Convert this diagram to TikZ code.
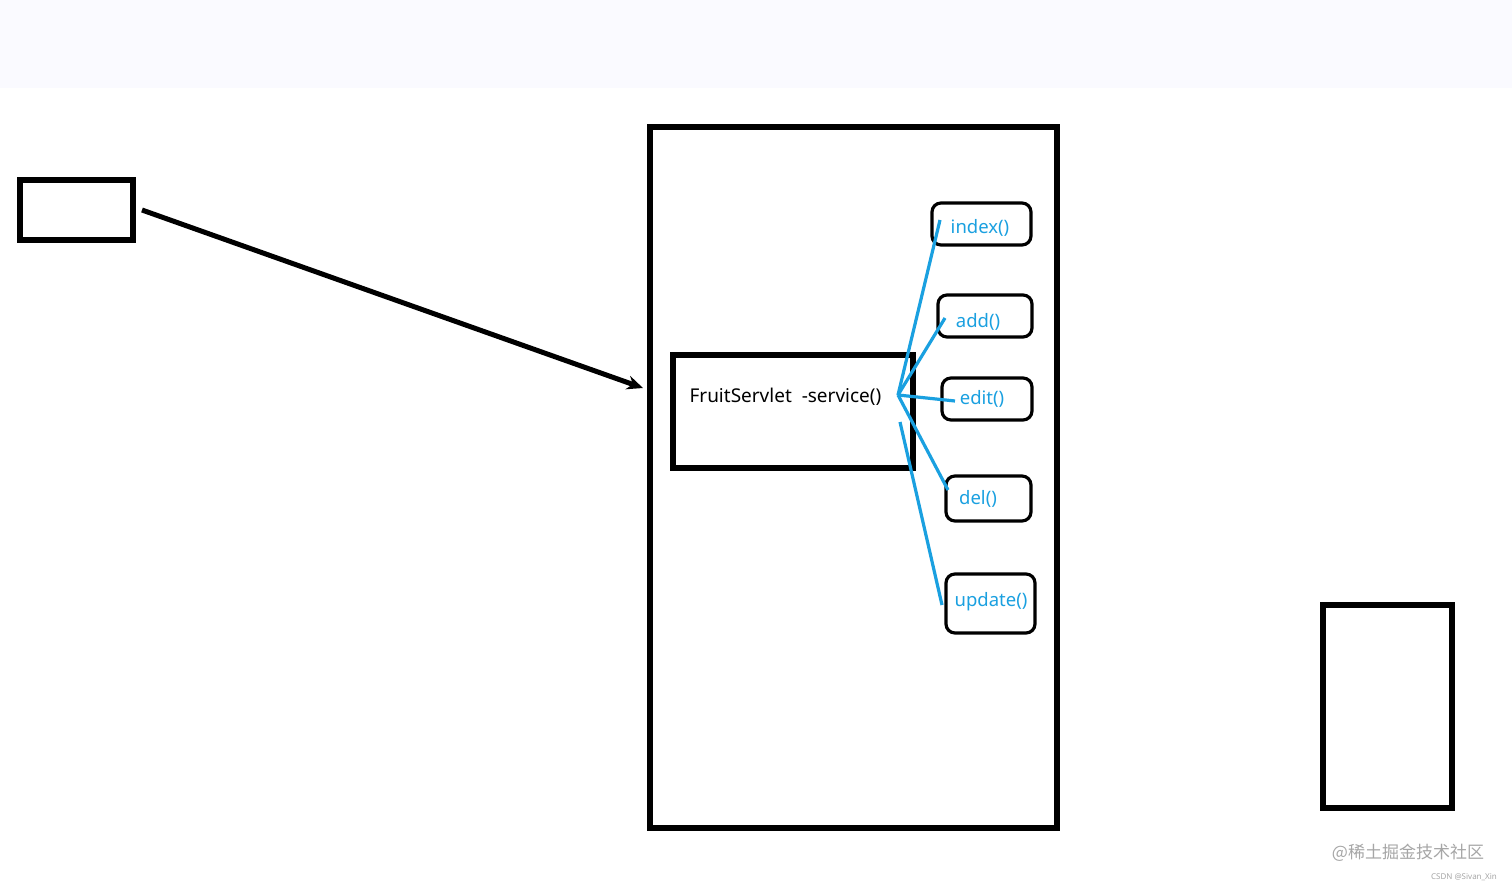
\documentclass[tikz,border=0pt]{standalone}
\usepackage{fontspec}
\setmainfont{Noto Sans}
\newfontfamily\cjk{Noto Sans CJK SC}
\usetikzlibrary{arrows.meta}
\definecolor{blu}{HTML}{1AA0E0}
\begin{document}
\begin{tikzpicture}[x=1pt,y=-1pt,
  box/.style={draw=black,line width=5.5pt},
  meth/.style={draw=black,line width=3.2pt,rounded corners=9pt},
  blab/.style={text=blu,font=\fontsize{18.5}{18.5}\selectfont},
  bl/.style={draw=blu,line width=3.2pt}]
\useasboundingbox (0,0) rectangle (1512,888);
\fill[white] (0,0) rectangle (1512,888);
\fill[blue!2!white] (0,0) rectangle (1512,88);
\draw[box] (20,180) rectangle (133,240);
\draw[box] (650,127) rectangle (1057,828);
\draw[box] (673,355) rectangle (913,468);
\draw[box] (1323,605) rectangle (1452,808);
\coordinate (s) at (142,210);
\coordinate (t) at (643,388);
\draw[line width=5pt,-{Stealth[length=16pt,width=14pt]}] (s) -- (t);
\node[anchor=west,font=\fontsize{19}{19}\selectfont] (fs) at (686,397) {FruitServlet\ \ -service()};
\draw[meth] (932,203) rectangle (1031,245);
\draw[meth] (938,295) rectangle (1032,337);
\draw[meth] (942,378) rectangle (1032,420);
\draw[meth] (946,476) rectangle (1031,521);
\draw[meth] (946,574) rectangle (1035,633);
\node[blab] (i) at (980,228) {index()};
\node[blab] (a) at (978,322) {add()};
\node[blab] (e) at (982,399) {edit()};
\node[blab] (d) at (978,499) {del()};
\node[blab] (u) at (991,602) {update()};
\coordinate (h) at (898,395);
\coordinate (h2) at (900,422);
\draw[bl] (940,220) -- (h);
\draw[bl] (945,318) -- (h);
\draw[bl] (955,401) -- (h);
\draw[bl] (948,490) -- (h);
\draw[bl] (942,605) -- (h2);
\node[text=gray!70,font=\cjk\fontsize{17}{17}\selectfont] (w) at (1408,853) {@稀土掘金技术社区};
\node[text=gray!70,font=\fontsize{8}{8}\selectfont] (w2) at (1464,877) {CSDN @Sivan\_Xin};
\end{tikzpicture}
\end{document}
